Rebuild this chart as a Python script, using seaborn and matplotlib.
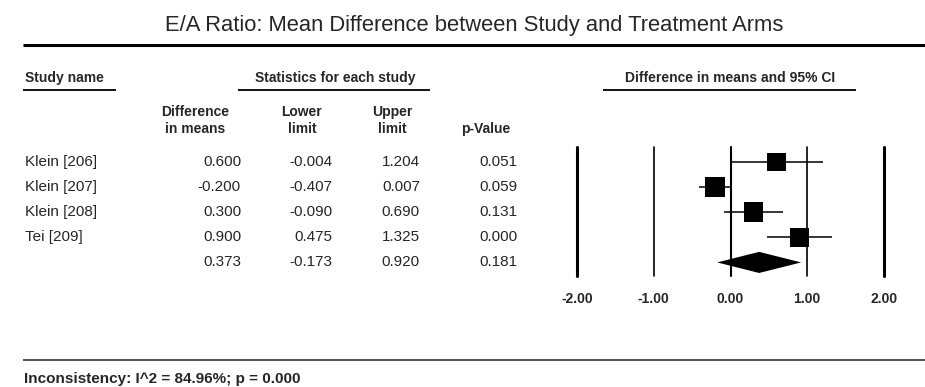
import pandas as pd
import matplotlib.pyplot as plt
import matplotlib.transforms as mtransforms
import seaborn as sns

# Datos del forest plot
estudios = ['Klein [206]', 'Klein [207]', 'Klein [208]', 'Tei [209]']
diferencia = [0.600, -0.200, 0.300, 0.900]
inferior = [-0.004, -0.407, -0.090, 0.475]
superior = [1.204, 0.007, 0.690, 1.325]
p_valor = ['0.051', '0.059', '0.131', '0.000']
peso_caja = [0.93, 1.04, 0.99, 0.96]   # tamaño relativo de los cuadrados

# efecto combinado
comb_dif, comb_inf, comb_sup, comb_p = 0.373, -0.173, 0.920, '0.181'

ticks = [-2, -1, 0, 1, 2]
titulo = 'E/A Ratio: Mean Difference between Study and Treatment Arms'
nota = 'Inconsistency: I^2 = 84.96%; p = 0.000'

datos = pd.DataFrame({'Estudio': estudios, 'Diferencia': diferencia,
                      'Inferior': inferior, 'Superior': superior,
                      'Fila': range(len(estudios))})
datos['s'] = [(14.2 * w) ** 2 for w in peso_caja]
fila_comb = len(estudios)

sns.set_style('white')
plt.rcParams['font.family'] = ['Liberation Sans', 'DejaVu Sans']

W, H = 925, 387
fig = plt.figure(figsize=(W / 100, H / 100), dpi=100)

# capa para los textos, en pixeles
capa = fig.add_axes([0, 0, 1, 1])
capa.set_xlim(0, W)
capa.set_ylim(H, 0)
capa.axis('off')

# ejes del forest plot
top, bottom = 147, 275.5
ax = fig.add_axes([577 / W, 1 - bottom / H, (884 - 577) / W, (bottom - top) / H])
ax.set_xlim(-2, 2)
ax.set_ylim(4.52, -0.59)
for s in ax.spines.values():
    s.set_visible(False)

grosor = {-2: 2.2, -1: 1.2, 0: 1.5, 1: 1.2, 2: 2.2}
for t in ticks:
    ax.axvline(t, color='black', lw=grosor[t], clip_on=False, zorder=1)

ax.hlines(datos['Fila'], datos['Inferior'], datos['Superior'],
          color='black', lw=1.1, zorder=2)
sns.scatterplot(data=datos, x='Diferencia', y='Fila', marker='s',
                s=datos['s'], color='black', linewidth=0, ax=ax, zorder=3,
                legend=False)
h = 0.42
ax.fill([comb_inf, comb_dif, comb_sup, comb_dif],
        [fila_comb, fila_comb - h, fila_comb, fila_comb + h],
        color='black', lw=0, zorder=3)

ax.set_xticks(ticks)
ax.set_xticklabels([f'{t:.2f}' for t in ticks], fontweight='bold', fontsize=10)
ax.tick_params(axis='x', length=0, pad=12)
ax.set_yticks([])
ax.set_xlabel('')
ax.set_ylabel('')

# textos de la tabla (x en pixeles, y en filas del forest)
tr = mtransforms.blended_transform_factory(capa.transData, ax.transData)
fs = 11
for i, est in enumerate(estudios):
    capa.text(25, i, est, transform=tr, fontsize=fs, va='center')
    capa.text(241, i, f'{diferencia[i]:.3f}', transform=tr, fontsize=fs,
              va='center', ha='right')
    capa.text(332, i, f'{inferior[i]:.3f}', transform=tr, fontsize=fs,
              va='center', ha='right')
    capa.text(420, i, f'{superior[i]:.3f}', transform=tr, fontsize=fs,
              va='center', ha='right')
    capa.text(517, i, p_valor[i], transform=tr, fontsize=fs,
              va='center', ha='right')
for x, v in zip([241, 332, 420, 517],
                [f'{comb_dif:.3f}', f'{comb_inf:.3f}', f'{comb_sup:.3f}', comb_p]):
    capa.text(x, fila_comb, v, transform=tr, fontsize=fs, va='center', ha='right')

# titulo y lineas
capa.text(474, 25, titulo, fontsize=15.8, ha='center', va='center')
capa.plot([23, W], [45, 45], color='black', lw=2.2, solid_capstyle='butt')
capa.plot([23, W], [360, 360], color='#555555', lw=1.5, solid_capstyle='butt')
capa.text(24, 379, nota, fontsize=11, fontweight='bold', va='center')

# cabeceras
bold = dict(fontsize=10, fontweight='bold', va='center')
capa.text(25, 78, 'Study name', ha='left', **bold)
capa.text(335, 78, 'Statistics for each study', ha='center', **bold)
capa.text(730, 78, 'Difference in means and 95% CI', ha='center', **bold)
for x0, x1 in [(23, 116), (238, 430), (603, 856)]:
    capa.plot([x0, x1], [89.5, 89.5], color='black', lw=1.3, solid_capstyle='butt')
capa.text(195, 112, 'Difference', ha='center', **bold)
capa.text(195, 129, 'in means', ha='center', **bold)
capa.text(302, 112, 'Lower', ha='center', **bold)
capa.text(302, 129, 'limit', ha='center', **bold)
capa.text(392, 112, 'Upper', ha='center', **bold)
capa.text(392, 129, 'limit', ha='center', **bold)
capa.text(486, 129, 'p-Value', ha='center', **bold)

plt.savefig('out.png', dpi=100)
